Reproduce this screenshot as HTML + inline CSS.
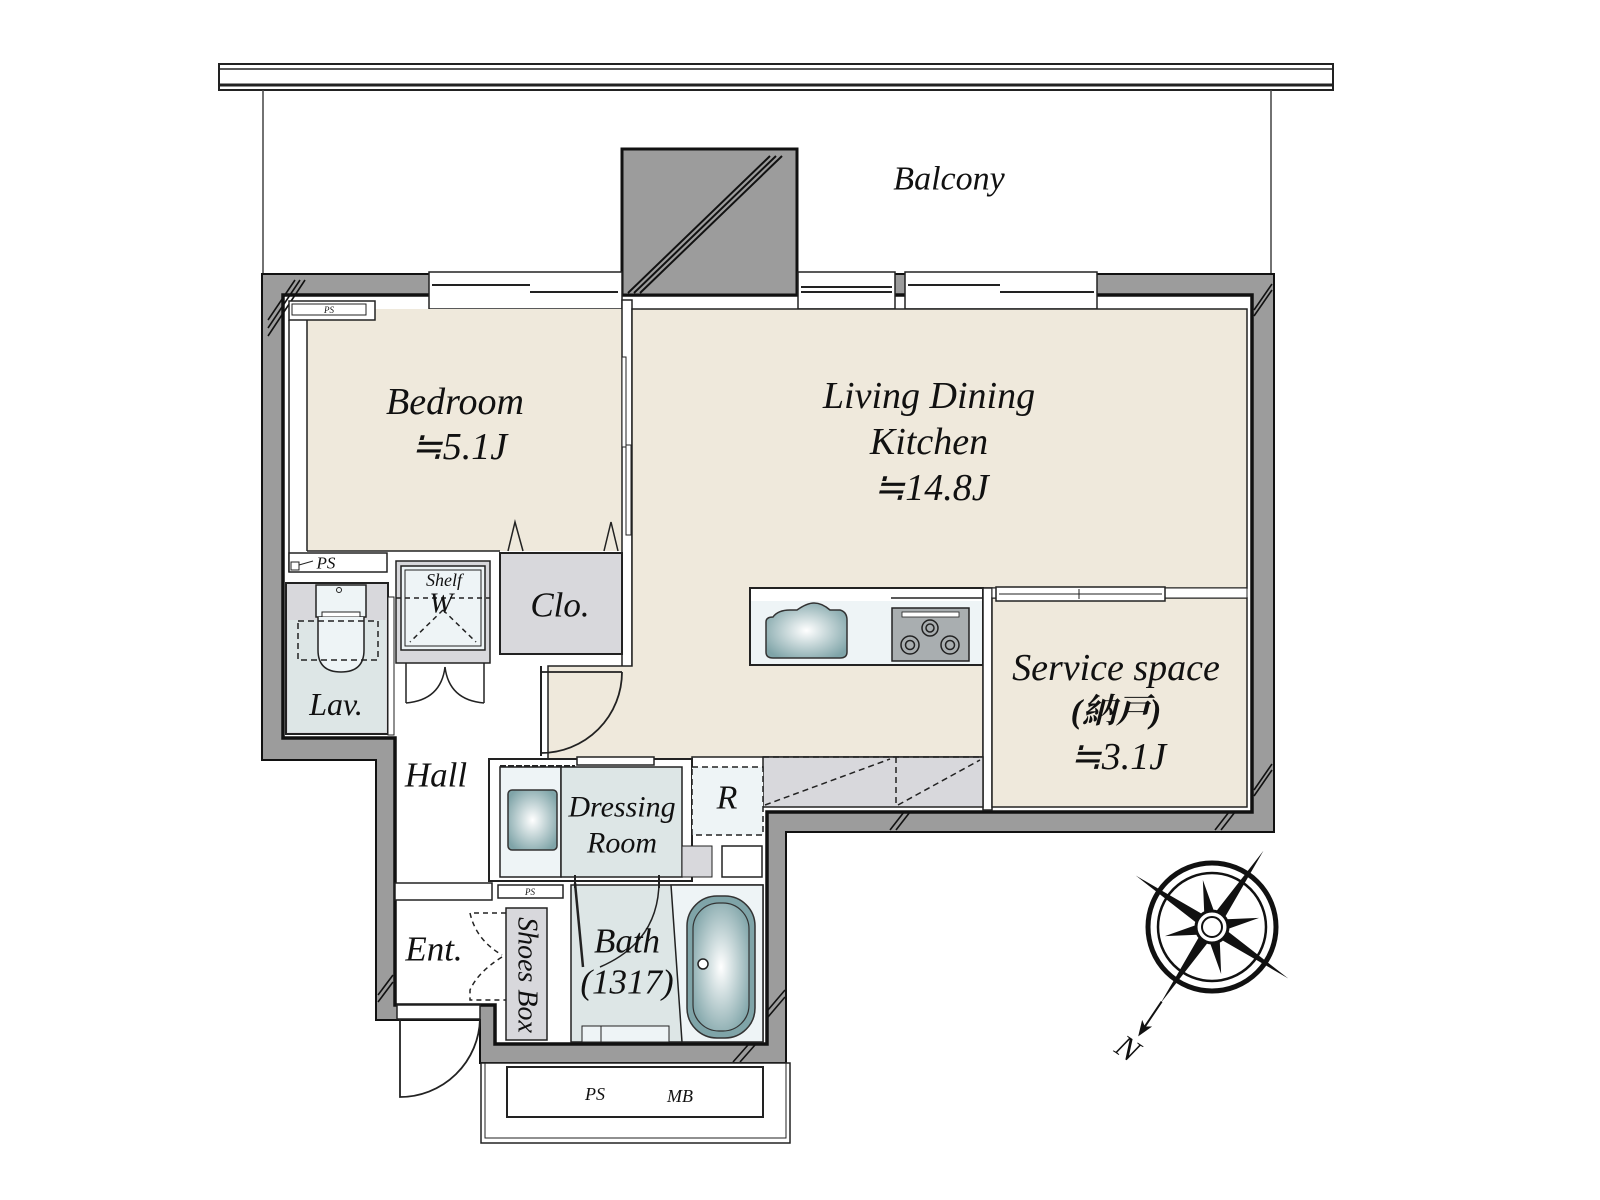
<!DOCTYPE html>
<html><head><meta charset="utf-8"><style>
html,body{margin:0;padding:0;background:#fff;}
svg{display:block;}
text{font-family:"Liberation Serif","Noto Serif CJK SC",serif;font-style:italic;fill:#111;}
</style></head><body>
<svg width="1600" height="1200" viewBox="0 0 1600 1200" xmlns="http://www.w3.org/2000/svg">
<!-- balcony rail -->
<rect x="219" y="64" width="1114" height="26" fill="#fff" stroke="#222" stroke-width="2"/>
<line x1="219" y1="69" x2="1333" y2="69" stroke="#222" stroke-width="1.5"/>
<line x1="219" y1="85" x2="1333" y2="85" stroke="#222" stroke-width="3"/>
<line x1="263" y1="90" x2="263" y2="274" stroke="#444" stroke-width="1.5"/>
<line x1="1271" y1="90" x2="1271" y2="274" stroke="#444" stroke-width="1.5"/>
<text x="949" y="179" font-size="34" text-anchor="middle" dominant-baseline="central">Balcony</text>

<!-- outer wall -->
<path d="M262,274 H1274 V832 H786 V1063 H480 V1020 H376 V760 H262 Z" fill="#9c9c9c" stroke="#111" stroke-width="2"/>
<path d="M283,295 H1252 V812 H767 V1044 H495 V1005 H395 V738 H283 Z" fill="#fff" stroke="#111" stroke-width="3.5"/>
<!-- pillar -->
<rect x="622" y="149" width="175" height="146" fill="#9c9c9c" stroke="#111" stroke-width="3"/>
<g stroke="#111" stroke-width="2"><line x1="628" y1="293" x2="770" y2="156"/><line x1="634" y1="293" x2="776" y2="156"/><line x1="640" y1="293" x2="782" y2="156"/></g>
<!-- hatch marks -->
<g stroke="#111" stroke-width="1.6">
<line x1="268" y1="320" x2="295" y2="280"/><line x1="268" y1="328" x2="300" y2="280"/><line x1="268" y1="336" x2="305" y2="280"/>
<line x1="1254" y1="310" x2="1272" y2="284"/><line x1="1254" y1="316" x2="1272" y2="290"/>
<line x1="1254" y1="790" x2="1272" y2="764"/><line x1="1254" y1="796" x2="1272" y2="770"/>
<line x1="890" y1="830" x2="904" y2="812"/><line x1="896" y1="830" x2="910" y2="812"/>
<line x1="1215" y1="830" x2="1229" y2="812"/><line x1="1221" y1="830" x2="1235" y2="812"/>
<line x1="378" y1="995" x2="393" y2="975"/><line x1="378" y1="1002" x2="393" y2="982"/>
<line x1="733" y1="1062" x2="748" y2="1045"/><line x1="740" y1="1062" x2="755" y2="1045"/>
<line x1="768" y1="1010" x2="785" y2="990"/><line x1="768" y1="1017" x2="785" y2="997"/>
</g>
<!-- windows -->
<g fill="#fff" stroke="#222" stroke-width="1.5">
<rect x="429" y="272" width="193" height="37"/>
<rect x="798" y="272" width="97" height="37"/>
<rect x="905" y="272" width="192" height="37"/>
</g>
<g stroke="#222" stroke-width="2">
<line x1="432" y1="285" x2="530" y2="285"/><line x1="530" y1="292" x2="618" y2="292"/>
<line x1="801" y1="287" x2="892" y2="287"/><line x1="801" y1="292" x2="892" y2="292"/>
<line x1="908" y1="285" x2="1000" y2="285"/><line x1="1000" y1="292" x2="1094" y2="292"/>
</g>

<!-- bedroom -->
<rect x="307" y="309" width="315" height="242" fill="#efe9dc"/>
<rect x="289" y="301" width="86" height="19" fill="#fff" stroke="#222" stroke-width="1.5"/>
<rect x="292" y="304" width="74" height="11" fill="#fff" stroke="#222" stroke-width="1"/>
<text x="329" y="310" font-size="9" text-anchor="middle" dominant-baseline="central">PS</text>
<line x1="307" y1="320" x2="307" y2="551" stroke="#222" stroke-width="1.5"/>
<line x1="289" y1="320" x2="289" y2="572" stroke="#222" stroke-width="1.5"/>
<line x1="307" y1="551" x2="500" y2="551" stroke="#222" stroke-width="1.5"/>
<text x="455" y="402" font-size="38" text-anchor="middle" dominant-baseline="central">Bedroom</text>
<text x="459" y="447" font-size="38" text-anchor="middle" dominant-baseline="central">≒5.1J</text>
<!-- bedroom/LDK partition -->
<rect x="622" y="300" width="10" height="370" fill="#fff" stroke="#222" stroke-width="1.5"/>
<rect x="622" y="357" width="4" height="90" fill="#fff" stroke="#222" stroke-width="1"/>
<rect x="626" y="445" width="5" height="90" fill="#fff" stroke="#222" stroke-width="1"/>

<!-- LDK -->
<path d="M632,309 H1247 V588 H983 V757 H692 V759 H548 V666 H632 Z" fill="#efe9dc" stroke="#222" stroke-width="1.5"/>
<text x="929" y="396" font-size="38" text-anchor="middle" dominant-baseline="central">Living Dining</text>
<text x="929" y="442" font-size="38" text-anchor="middle" dominant-baseline="central">Kitchen</text>
<text x="931" y="488" font-size="38" text-anchor="middle" dominant-baseline="central">≒14.8J</text>
<!-- kitchen counter -->
<rect x="750" y="588" width="233" height="77" fill="#fff" stroke="#222" stroke-width="2"/>
<rect x="751" y="601" width="231" height="63" fill="#eef4f6"/>
<line x1="891" y1="598" x2="983" y2="598" stroke="#222" stroke-width="1.5"/>
<defs><radialGradient id="g1" cx="0.5" cy="0.5" r="0.6"><stop offset="0" stop-color="#fff"/><stop offset="1" stop-color="#7fa4a8"/></radialGradient></defs>
<path d="M773,617 Q778,610 790,610 L797,610 Q807,603 814,603 Q822,603 830,610 L840,610 Q847,612 847,620 V652 Q847,658 840,658 H773 Q766,658 766,652 V622 Q766,617 773,617 Z" fill="url(#g1)" stroke="#333" stroke-width="1.5"/>
<rect x="892" y="608" width="77" height="53" fill="#a9aeb0" stroke="#222" stroke-width="1.5"/>
<rect x="902" y="612" width="57" height="5" fill="#fff" stroke="#222" stroke-width="0.8"/>
<g fill="none" stroke="#222" stroke-width="1.5"><circle cx="930" cy="628" r="8"/><circle cx="930" cy="628" r="4"/><circle cx="910" cy="645" r="9"/><circle cx="910" cy="645" r="4.5"/><circle cx="950" cy="645" r="9"/><circle cx="950" cy="645" r="4.5"/></g>
<!-- service partition & room -->
<rect x="983" y="588" width="9" height="222" fill="#fff" stroke="#222" stroke-width="1.5"/>
<rect x="992" y="598" width="255" height="209" fill="#efe9dc" stroke="#222" stroke-width="1.5"/>
<rect x="992" y="588" width="255" height="10" fill="#fff" stroke="#222" stroke-width="1"/>
<rect x="996" y="587" width="169" height="14" fill="#fff" stroke="#222" stroke-width="1.5"/>
<line x1="999" y1="594" x2="1162" y2="594" stroke="#222" stroke-width="1"/>
<line x1="1079" y1="589" x2="1079" y2="599" stroke="#222" stroke-width="1"/>
<text x="1116" y="668" font-size="38" text-anchor="middle" dominant-baseline="central">Service space</text>
<text x="1116" y="712" font-size="34" font-weight="bold" text-anchor="middle" dominant-baseline="central">(納戸)</text>
<text x="1118" y="757" font-size="38" text-anchor="middle" dominant-baseline="central">≒3.1J</text>
<!-- storage under -->
<rect x="763" y="757" width="220" height="50" fill="#d8d8dc" stroke="#222" stroke-width="1.5"/>
<g stroke="#222" stroke-width="1.5" stroke-dasharray="6,4" fill="none">
<line x1="763" y1="757" x2="983" y2="757"/><line x1="896" y1="757" x2="896" y2="807"/>
<line x1="765" y1="805" x2="890" y2="759"/><line x1="898" y1="805" x2="980" y2="760"/>
</g>

<!-- PS row / Shelf / Clo -->
<rect x="289" y="553" width="98" height="19" fill="#fff" stroke="#222" stroke-width="1.5"/>
<rect x="291" y="562" width="8" height="8" fill="#fff" stroke="#222" stroke-width="1"/>
<line x1="299" y1="565" x2="313" y2="561" stroke="#222" stroke-width="1"/>
<text x="326" y="563" font-size="17" text-anchor="middle" dominant-baseline="central">PS</text>
<rect x="396" y="561" width="94" height="102" fill="#d8d8dc" stroke="#222" stroke-width="1.5"/>
<rect x="401" y="566" width="84" height="84" fill="#eef4f6" stroke="#222" stroke-width="1.5"/>
<rect x="405" y="570" width="76" height="76" fill="none" stroke="#222" stroke-width="1"/>
<g stroke="#222" stroke-width="1.5" stroke-dasharray="5,4" fill="none"><line x1="396" y1="598" x2="490" y2="598"/><line x1="443" y1="610" x2="410" y2="642"/><line x1="443" y1="610" x2="476" y2="642"/></g>
<text x="444" y="580" font-size="18" text-anchor="middle" dominant-baseline="central">Shelf</text>
<text x="441" y="604" font-size="28" text-anchor="middle" dominant-baseline="central">W</text>
<rect x="500" y="553" width="122" height="101" fill="#d8d8dc" stroke="#222" stroke-width="2"/>
<text x="560" y="605" font-size="35" text-anchor="middle" dominant-baseline="central">Clo.</text>
<g fill="none" stroke="#222" stroke-width="1.5"><path d="M508,551 L515,522 L523,551"/><path d="M604,551 L611,522 L618,551"/></g>
<!-- closet doors -->
<g fill="none" stroke="#222" stroke-width="1.5">
<line x1="406" y1="663" x2="406" y2="703"/><path d="M406,703 Q441,700 445,667"/>
<line x1="484" y1="663" x2="484" y2="703"/><path d="M484,703 Q449,700 445,667"/>
</g>
<!-- Lav -->
<rect x="286" y="583" width="102" height="151" fill="#d8d8dc" stroke="#222" stroke-width="2"/>
<rect x="288" y="620" width="98" height="112" fill="#dde6e6"/>
<rect x="316" y="585" width="50" height="32" fill="#eef4f6" stroke="#222" stroke-width="1.5"/>
<rect x="322" y="612" width="38" height="5" fill="#fff" stroke="#222" stroke-width="1"/>
<circle cx="339" cy="590" r="2.5" fill="none" stroke="#222"/>
<path d="M318,617 V650 Q318,672 341,672 Q364,672 364,650 V617" fill="#eef4f6" stroke="#222" stroke-width="1.5"/>
<rect x="298" y="621" width="80" height="39" fill="none" stroke="#222" stroke-width="1.5" stroke-dasharray="6,4"/>
<text x="336" y="704" font-size="32" text-anchor="middle" dominant-baseline="central">Lav.</text>
<rect x="388" y="597" width="6" height="138" fill="#fff" stroke="#222" stroke-width="1"/>

<!-- Hall / LDK door -->
<line x1="541" y1="666" x2="541" y2="756" stroke="#222" stroke-width="2"/>
<path d="M541,672 H622 M622,672 A81,81 0 0 1 541,753" fill="none" stroke="#222" stroke-width="1.8"/>
<text x="436" y="775" font-size="35" text-anchor="middle" dominant-baseline="central">Hall</text>
<rect x="395" y="883" width="97" height="17" fill="#fff" stroke="#222" stroke-width="1.5"/>
<text x="434" y="949" font-size="35" text-anchor="middle" dominant-baseline="central">Ent.</text>
<!-- entrance door -->
<rect x="397" y="1005" width="83" height="14" fill="#fff" stroke="#222" stroke-width="1.5"/>
<path d="M400,1019 V1097 A80,80 0 0 0 480,1019" fill="none" stroke="#222" stroke-width="1.8"/>
<!-- shoes box -->
<rect x="506" y="908" width="41" height="132" fill="#d8d8dc" stroke="#222" stroke-width="1.5"/>
<g fill="none" stroke="#222" stroke-width="1.5" stroke-dasharray="5,4"><path d="M506,913 H470 Q476,940 502,955"/><path d="M502,957 Q478,972 470,990 V1000 H506"/></g>
<text x="527" y="975" font-size="28" text-anchor="middle" dominant-baseline="central" transform="rotate(90 527 975)">Shoes Box</text>

<!-- dressing -->
<rect x="489" y="759" width="203" height="122" fill="#fff" stroke="#222" stroke-width="2"/>
<rect x="500" y="767" width="61" height="110" fill="#eef4f6" stroke="#222" stroke-width="1.5"/>
<rect x="561" y="767" width="121" height="110" fill="#dde6e6" stroke="#222" stroke-width="1.5"/>
<rect x="508" y="790" width="49" height="60" rx="4" fill="url(#g1)" stroke="#333" stroke-width="1.5"/>
<rect x="682" y="846" width="30" height="31" fill="#d8d8dc" stroke="#222" stroke-width="1"/>
<rect x="722" y="846" width="40" height="31" fill="#fff" stroke="#222" stroke-width="1.5"/>
<rect x="577" y="757" width="77" height="8" fill="#fff" stroke="#222" stroke-width="1.5"/>
<line x1="500" y1="766" x2="575" y2="766" stroke="#222" stroke-width="2" stroke-dasharray="6,2"/>
<text x="622" y="807" font-size="30" text-anchor="middle" dominant-baseline="central">Dressing</text>
<text x="622" y="843" font-size="30" text-anchor="middle" dominant-baseline="central">Room</text>
<!-- R -->
<rect x="692" y="767" width="71" height="68" fill="#eef4f6" stroke="#222" stroke-width="1.5" stroke-dasharray="6,4"/>
<text x="727" y="798" font-size="34" text-anchor="middle" dominant-baseline="central">R</text>
<!-- PS small -->
<rect x="498" y="885" width="65" height="13" fill="#fff" stroke="#222" stroke-width="1.5"/>
<text x="530" y="892" font-size="9" text-anchor="middle" dominant-baseline="central">PS</text>
<!-- bath -->
<rect x="571" y="885" width="192" height="157" fill="#dde6e6" stroke="#222" stroke-width="1.5"/>
<path d="M671,885 L682,1042 H763 V885 Z" fill="#eef4f6" stroke="#222" stroke-width="1.5"/>
<rect x="687" y="896" width="68" height="142" rx="30" fill="#7fa4a8" stroke="#333" stroke-width="1.5"/>
<rect x="693" y="903" width="56" height="128" rx="26" fill="url(#g1)" stroke="#333" stroke-width="1.2"/>
<circle cx="703" cy="964" r="5" fill="#fff" stroke="#222" stroke-width="1.5"/>
<rect x="582" y="1026" width="87" height="16" fill="#eef4f6" stroke="#222" stroke-width="1"/>
<line x1="601" y1="1026" x2="601" y2="1042" stroke="#222" stroke-width="1"/>
<line x1="575" y1="883" x2="583" y2="967" stroke="#222" stroke-width="2.5"/>
<path d="M659,883 Q658,942 600,967" fill="none" stroke="#222" stroke-width="1.5"/>
<line x1="575" y1="875" x2="575" y2="888" stroke="#222" stroke-width="2"/><line x1="659" y1="875" x2="659" y2="888" stroke="#222" stroke-width="2"/>
<text x="627" y="941" font-size="35" text-anchor="middle" dominant-baseline="central">Bath</text>
<text x="627" y="982" font-size="35" text-anchor="middle" dominant-baseline="central">(1317)</text>

<!-- PS MB -->
<rect x="481" y="1063" width="309" height="80" fill="#fff" stroke="#222" stroke-width="1.5"/>
<rect x="485" y="1063" width="301" height="75" fill="none" stroke="#222" stroke-width="1"/>
<rect x="507" y="1067" width="256" height="50" fill="#fff" stroke="#222" stroke-width="2"/>
<text x="595" y="1094" font-size="18" text-anchor="middle" dominant-baseline="central">PS</text>
<text x="680" y="1096" font-size="18" text-anchor="middle" dominant-baseline="central">MB</text>

<!-- compass -->
<g transform="translate(1212,927)">
<circle r="64" fill="none" stroke="#111" stroke-width="5"/>
<circle r="54" fill="none" stroke="#111" stroke-width="2.5"/>
<g transform="rotate(34)">
<line x1="0" y1="90" x2="0" y2="128" stroke="#111" stroke-width="2"/>
<path d="M0,132 L-6,116 L0,120 L6,116 Z" fill="#111"/>
<polygon points="92,0 12.9,5.4 33.9,33.9 5.4,12.9 0,92 -5.4,12.9 -33.9,33.9 -12.9,5.4 -92,0 -12.9,-5.4 -33.9,-33.9 -5.4,-12.9 0,-92 5.4,-12.9 33.9,-33.9 12.9,-5.4" fill="#111"/>
</g>
<circle r="16" fill="#fff" stroke="#111" stroke-width="3"/>
<circle r="10" fill="#fff" stroke="#111" stroke-width="2"/>
</g>
<text x="1128" y="1048" font-size="32" text-anchor="middle" dominant-baseline="central" transform="rotate(34 1128 1048)">N</text>
</svg>
</body></html>
